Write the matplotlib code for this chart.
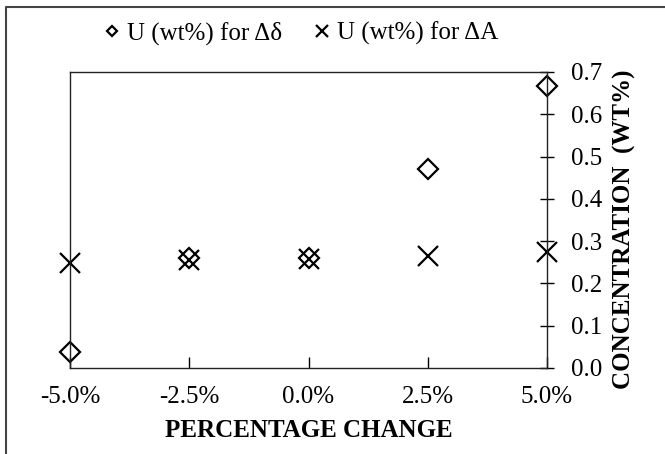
import matplotlib
matplotlib.use("Agg")
import matplotlib.pyplot as plt
from matplotlib.lines import Line2D

plt.rcParams['font.family'] = ['Liberation Serif', 'DejaVu Serif']

# percentage change (x) and U concentration (wt%)
pct = [-5.0, -2.5, 0.0, 2.5, 5.0]
u_delta = [0.038, 0.26, 0.26, 0.47, 0.667]   # for delta-delta
u_A = [0.248, 0.255, 0.258, 0.265, 0.275]    # for delta-A
xtick_labels = ['-5.0%', '-2.5%', '0.0%', '2.5%', '5.0%']
yticks = [0.0, 0.1, 0.2, 0.3, 0.4, 0.5, 0.6, 0.7]

fig = plt.figure(figsize=(6.65, 4.54), dpi=100)
ax = fig.add_axes([70/665, 1-368/454, 477/665, 296/454])

ax.plot(pct, u_delta, linestyle='none', marker='D', ms=10, mfc='none',
        mec='black', mew=1.6, label='U (wt%) for Δδ', clip_on=False)
ax.plot(pct, u_A, linestyle='none', marker='x', ms=15, color='black',
        mew=1.6, label='U (wt%) for ΔA', clip_on=False)

ax.set_xlim(-5, 5)
ax.set_ylim(0, 0.7)
ax.set_xticks(pct)
ax.set_xticklabels(xtick_labels)
ax.set_yticks(yticks)
ax.set_yticklabels(['%.1f' % v for v in yticks])
ax.yaxis.tick_right()
ax.yaxis.set_label_position('right')
ax.tick_params(axis='x', direction='in', length=8, width=1, labelsize=18, pad=13)
ax.tick_params(axis='y', direction='inout', length=10, width=1, labelsize=18, pad=12)
for s in ax.spines.values():
    s.set_linewidth(1)
    s.set_color('#222222')

ax.set_xlabel('PERCENTAGE CHANGE', fontsize=18, fontweight='bold', labelpad=8)
ax.set_ylabel('CONCENTRATION  (WT%)', fontsize=18, fontweight='bold')
ax.yaxis.set_label_coords(1.138, 0.468)

fig.legend(loc='center left', bbox_to_anchor=(106/665, 1-33/454), ncol=2,
           frameon=False, fontsize=18, handlelength=0.5, handletextpad=0.35,
           columnspacing=1.35, markerscale=0.55, borderaxespad=0, borderpad=0)

# figure border (top and left)
fig.add_artist(Line2D([6/665, 6/665, 1.0], [0.0, 1-7/454, 1-7/454],
                      transform=fig.transFigure, color='#444444', lw=1.5))

fig.savefig('out.png', dpi=100)
